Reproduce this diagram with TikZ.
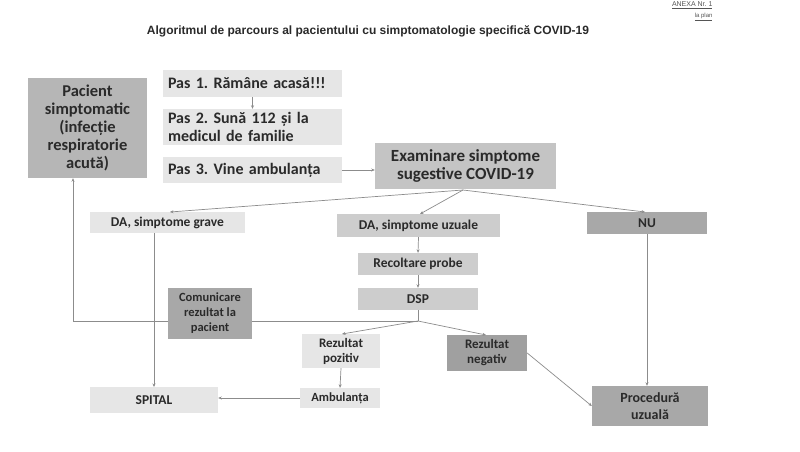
\documentclass[tikz,border=0pt]{standalone}
\usepackage{fontspec}
\setmainfont{Carlito}
\newfontfamily\titlefont{Liberation Sans}
\usetikzlibrary{arrows.meta}
\definecolor{lightbox}{HTML}{E6E6E6}
\definecolor{midbox}{HTML}{CDCDCD}
\definecolor{exambox}{HTML}{C4C4C4}
\definecolor{darkbox}{HTML}{A8A8A8}
\definecolor{pacbox}{HTML}{B6B6B6}
\definecolor{linegray}{HTML}{8C8C8C}
\definecolor{txt}{HTML}{2A2A2A}
\tikzset{
  x=1pt, y=-1pt,
  box/.style={fill=#1, draw=none, inner sep=0pt, align=center, text=txt, font=\bfseries},
  conn/.style={draw=linegray, line width=0.7pt, -{Stealth[length=3.5pt,width=3pt]}},
  plainconn/.style={draw=linegray, line width=0.7pt},
}
\frenchspacing
\begin{document}
\begin{tikzpicture}
\useasboundingbox (0,0) rectangle (800,452);
\fill[white] (0,0) rectangle (800,452);

% title and header
\node[font=\titlefont\bfseries\fontsize{12}{14}\selectfont, text=txt] (title) at (368,31) {Algoritmul de parcours al pacientului cu simptomatologie specifică COVID-19};
\node[anchor=east, font=\titlefont\fontsize{7}{8}\selectfont, text=txt!80] (anexa) at (716,5) {\underline{ANEXA Nr. 1}};
\node[anchor=east, font=\titlefont\fontsize{6}{7}\selectfont, text=txt!80] (laplan) at (716,17) {\underline{la plan}};

% boxes
\node[box=pacbox, minimum width=119pt, minimum height=100pt, font=\bfseries\fontsize{16.5}{18}\selectfont] (pac) at (87.5,128) {Pacient\\simptomatic\\(infecție\\respiratorie\\acută)};

\node[box=lightbox, minimum width=179pt, minimum height=27pt, text width=169pt, align=left, font=\bfseries\fontsize{16}{18}\selectfont] (pas1) at (252.5,83.5) {Pas 1. Rămâne acasă!!!};
\node[box=lightbox, minimum width=179pt, minimum height=36pt, text width=169pt, align=left, font=\bfseries\fontsize{16}{18}\selectfont] (pas2) at (252.5,127) {Pas 2. Sună 112 și la\\medicul de familie};
\node[box=lightbox, minimum width=179pt, minimum height=26pt, text width=169pt, align=left, font=\bfseries\fontsize{16}{18}\selectfont] (pas3) at (252.5,170) {Pas 3. Vine ambulanța};

\node[box=exambox, minimum width=181pt, minimum height=46pt, font=\bfseries\fontsize{17}{18}\selectfont] (exam) at (465.5,166) {Examinare simptome\\sugestive COVID-19};

\node[box=lightbox, minimum width=155pt, minimum height=21pt, font=\bfseries\fontsize{13.5}{15}\selectfont] (grave) at (167.5,222.5) {DA, simptome grave};
\node[box=midbox, minimum width=163pt, minimum height=23pt, font=\bfseries\fontsize{13.5}{15}\selectfont] (uzuale) at (418.5,225.5) {DA, simptome uzuale};
\node[box=darkbox, minimum width=120pt, minimum height=22pt, font=\bfseries\fontsize{13.5}{15}\selectfont] (nu) at (647,223) {NU};

\node[box=midbox, minimum width=120pt, minimum height=22pt, font=\bfseries\fontsize{13.5}{15}\selectfont] (recolt) at (418,264) {Recoltare probe};
\node[box=midbox, minimum width=120pt, minimum height=22pt, font=\bfseries\fontsize{13.5}{15}\selectfont] (dsp) at (418,299) {DSP};

\node[box=darkbox, minimum width=84pt, minimum height=51pt, font=\bfseries\fontsize{12.5}{15}\selectfont] (comun) at (210,313.5) {Comunicare\\rezultat la\\pacient};

\node[box=lightbox, minimum width=78pt, minimum height=34pt, font=\bfseries\fontsize{13}{15}\selectfont] (poz) at (341,351) {Rezultat\\pozitiv};
\node[box=darkbox!95!black, minimum width=80pt, minimum height=36pt, font=\bfseries\fontsize{13}{15}\selectfont] (neg) at (487,353) {Rezultat\\negativ};

\node[box=lightbox, minimum width=128pt, minimum height=26pt, font=\bfseries\fontsize{13.5}{15}\selectfont] (spital) at (154,400) {SPITAL};
\node[box=lightbox, minimum width=80pt, minimum height=20pt, font=\bfseries\fontsize{12.5}{14}\selectfont] (amb) at (340,398) {Ambulanța};
\node[box=darkbox, minimum width=116pt, minimum height=40pt, font=\bfseries\fontsize{14}{17}\selectfont] (proc) at (650,406) {Procedură\\uzuală};

% junctions
\coordinate (ej) at (463,190);
\coordinate (dj) at (418,321);
\coordinate (lc) at (73,321);

% connectors
\draw[conn] (pas1.south) -- (pas2.north);
\draw[conn] (pas3.east) -- (pas3.east -| exam.west);
\draw[conn] (ej) -- (170,212);
\draw[conn] (ej) -- (420,214);
\draw[conn] (ej) -- (645,212);
\draw[conn] (154,233) -- (154,387);
\draw[conn] (uzuale.south) -- (recolt.north);
\draw[conn] (recolt.south) -- (dsp.north);
\draw[conn] (nu.south) -- (nu.south |- proc.north);
\draw[plainconn] (dsp.south) -- (dj);
\draw[conn] (dj) -- (342,334);
\draw[conn] (dj) -- (486,335);
\draw[plainconn] (dj) -- (comun.east |- dj);
\draw[plainconn] (comun.west |- dj) -- (lc);
\draw[conn] (lc) -- (lc |- pac.south);
\draw[conn] (poz.south) -- (amb.north);
\draw[conn] (amb.west) -- (spital.east |- amb.west);
\draw[conn] (neg.east) -- (proc.west);
\end{tikzpicture}
\end{document}
